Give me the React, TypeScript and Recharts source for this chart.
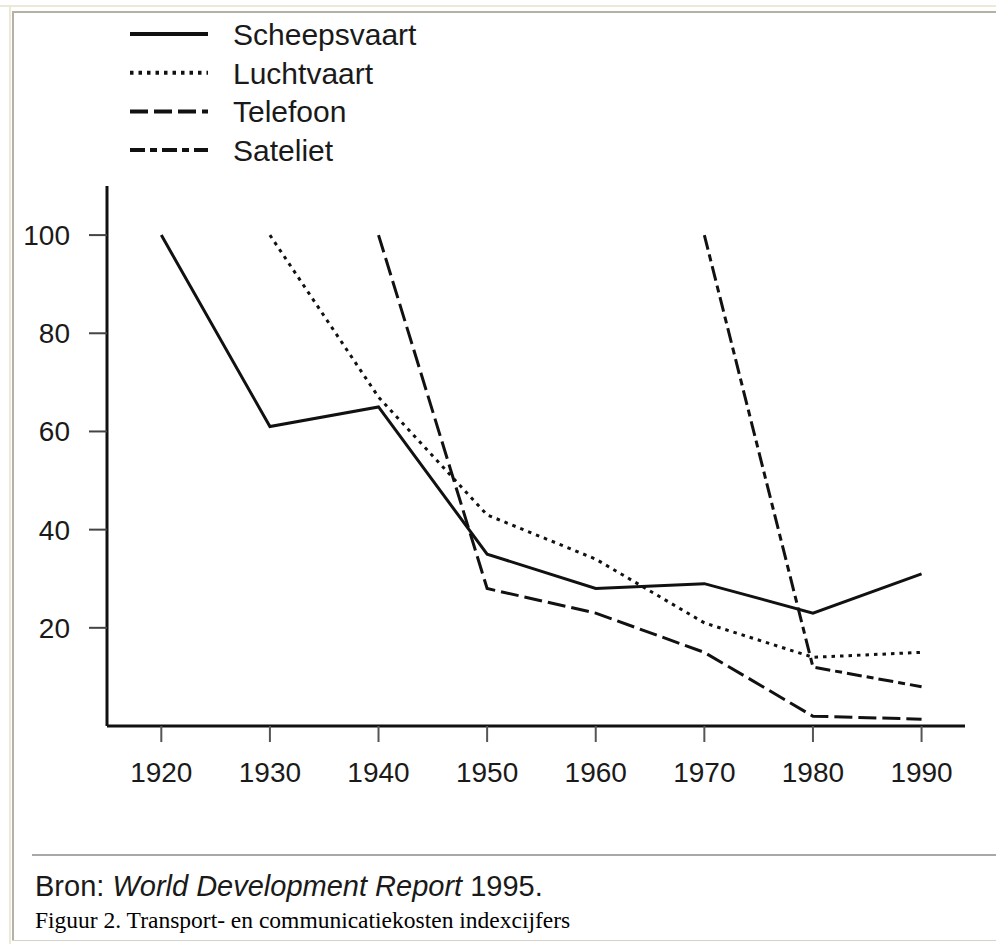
import React from 'react';
import { LineChart, Line, XAxis, YAxis, Legend } from 'recharts';

const years = [1920, 1930, 1940, 1950, 1960, 1970, 1980, 1990];
const scheepsvaart = [100, 61, 65, 35, 28, 29, 23, 31];
const luchtvaart = [null, 100, 67, 43, 34, 21, 14, 15];
const telefoon = [null, null, 100, 28, 23, 15, 2, 1.4];
const sateliet = [null, null, null, null, null, 100, 12, 8];
const yTicks = [20, 40, 60, 80, 100];

const data = years.map((year, i) => ({
  year,
  scheepsvaart: scheepsvaart[i],
  luchtvaart: luchtvaart[i],
  telefoon: telefoon[i],
  sateliet: sateliet[i],
}));

const series = [
  { key: 'scheepsvaart', name: 'Scheepsvaart', dash: undefined },
  { key: 'luchtvaart', name: 'Luchtvaart', dash: '3.5 5' },
  { key: 'telefoon', name: 'Telefoon', dash: '18 6' },
  { key: 'sateliet', name: 'Sateliet', dash: '15 5 7 5' },
];

const FONT = '"Liberation Sans", Arial, Helvetica, sans-serif';
const INK = '#111';

const LegendBox = () => (
  <svg width={500} height={170} style={{ display: 'block' }}>
    {series.map((s, i) => {
      const y = 34 + i * 38.7;
      return (
        <g key={s.key}>
          <line x1={130} x2={208} y1={y} y2={y} stroke={INK} strokeWidth={4} strokeDasharray={s.dash} />
          <text x={233} y={y + 11} fontSize={30} fontFamily={FONT} fill="#1a1a1a">
            {s.name}
          </text>
        </g>
      );
    })}
  </svg>
);

export default function App() {
  return (
    <div style={{ position: 'absolute', top: 0, left: 0, width: 996, height: 944, background: '#fff', overflow: 'hidden' }}>
      {/* page frame */}
      <div style={{ position: 'absolute', top: 5, left: 0, right: 0, height: 2, background: '#ece9d8' }} />
      <div style={{ position: 'absolute', top: 5, left: 9, width: 2, bottom: 0, background: '#ece9d8' }} />
      <div style={{ position: 'absolute', top: 11, left: 12, right: 0, height: 2, background: '#b5b2a5' }} />
      <div style={{ position: 'absolute', top: 11, left: 12, width: 2, bottom: 3, background: '#b5b2a5' }} />
      <div style={{ position: 'absolute', bottom: 3, left: 12, right: 0, height: 1, background: '#d6d3c6' }} />

      <div style={{ position: 'absolute', top: 0, left: 0 }}>
        <LineChart
          width={996}
          height={944}
          data={data}
          margin={{ top: 186, right: 31, bottom: 118, left: 0 }}
        >
          <XAxis
            dataKey="year"
            type="number"
            domain={[1915, 1994]}
            ticks={years}
            height={100}
            axisLine={{ stroke: INK, strokeWidth: 3 }}
            tickLine={{ stroke: '#555', strokeWidth: 2 }}
            tickSize={16}
            tickMargin={20}
            tick={{ fill: '#1a1a1a', fontSize: 28, fontFamily: FONT }}
          />
          <YAxis
            type="number"
            domain={[0, 110]}
            ticks={yTicks}
            width={107}
            axisLine={{ stroke: INK, strokeWidth: 3 }}
            tickLine={{ stroke: '#444', strokeWidth: 2 }}
            tickSize={18}
            tickMargin={19}
            tick={{ fill: '#1a1a1a', fontSize: 28, fontFamily: FONT }}
          />
          {series.map((s) => (
            <Line
              key={s.key}
              dataKey={s.key}
              name={s.name}
              type="linear"
              stroke={INK}
              strokeWidth={3}
              strokeDasharray={s.dash}
              dot={false}
              activeDot={false}
              isAnimationActive={false}
            />
          ))}
          <Legend
            layout="vertical"
            verticalAlign="middle"
            align="center"
            content={() => <LegendBox />}
            wrapperStyle={{ top: 0, left: 0, width: 500 }}
          />
        </LineChart>
      </div>

      <div style={{ position: 'absolute', top: 854, left: 32, right: 0, height: 2, background: '#a8a8a8' }} />
      <div style={{ position: 'absolute', top: 869, left: 35, fontFamily: FONT, fontSize: 29, color: '#1a1a1a', lineHeight: '34px', whiteSpace: 'nowrap' }}>
        Bron: <i>World Development Report</i> 1995.
      </div>
      <div style={{ position: 'absolute', top: 906, left: 35, fontFamily: '"Liberation Serif", "Times New Roman", serif', fontSize: 23.5, color: '#000', lineHeight: '28px', whiteSpace: 'nowrap' }}>
        Figuur 2. Transport- en communicatiekosten indexcijfers
      </div>
    </div>
  );
}
